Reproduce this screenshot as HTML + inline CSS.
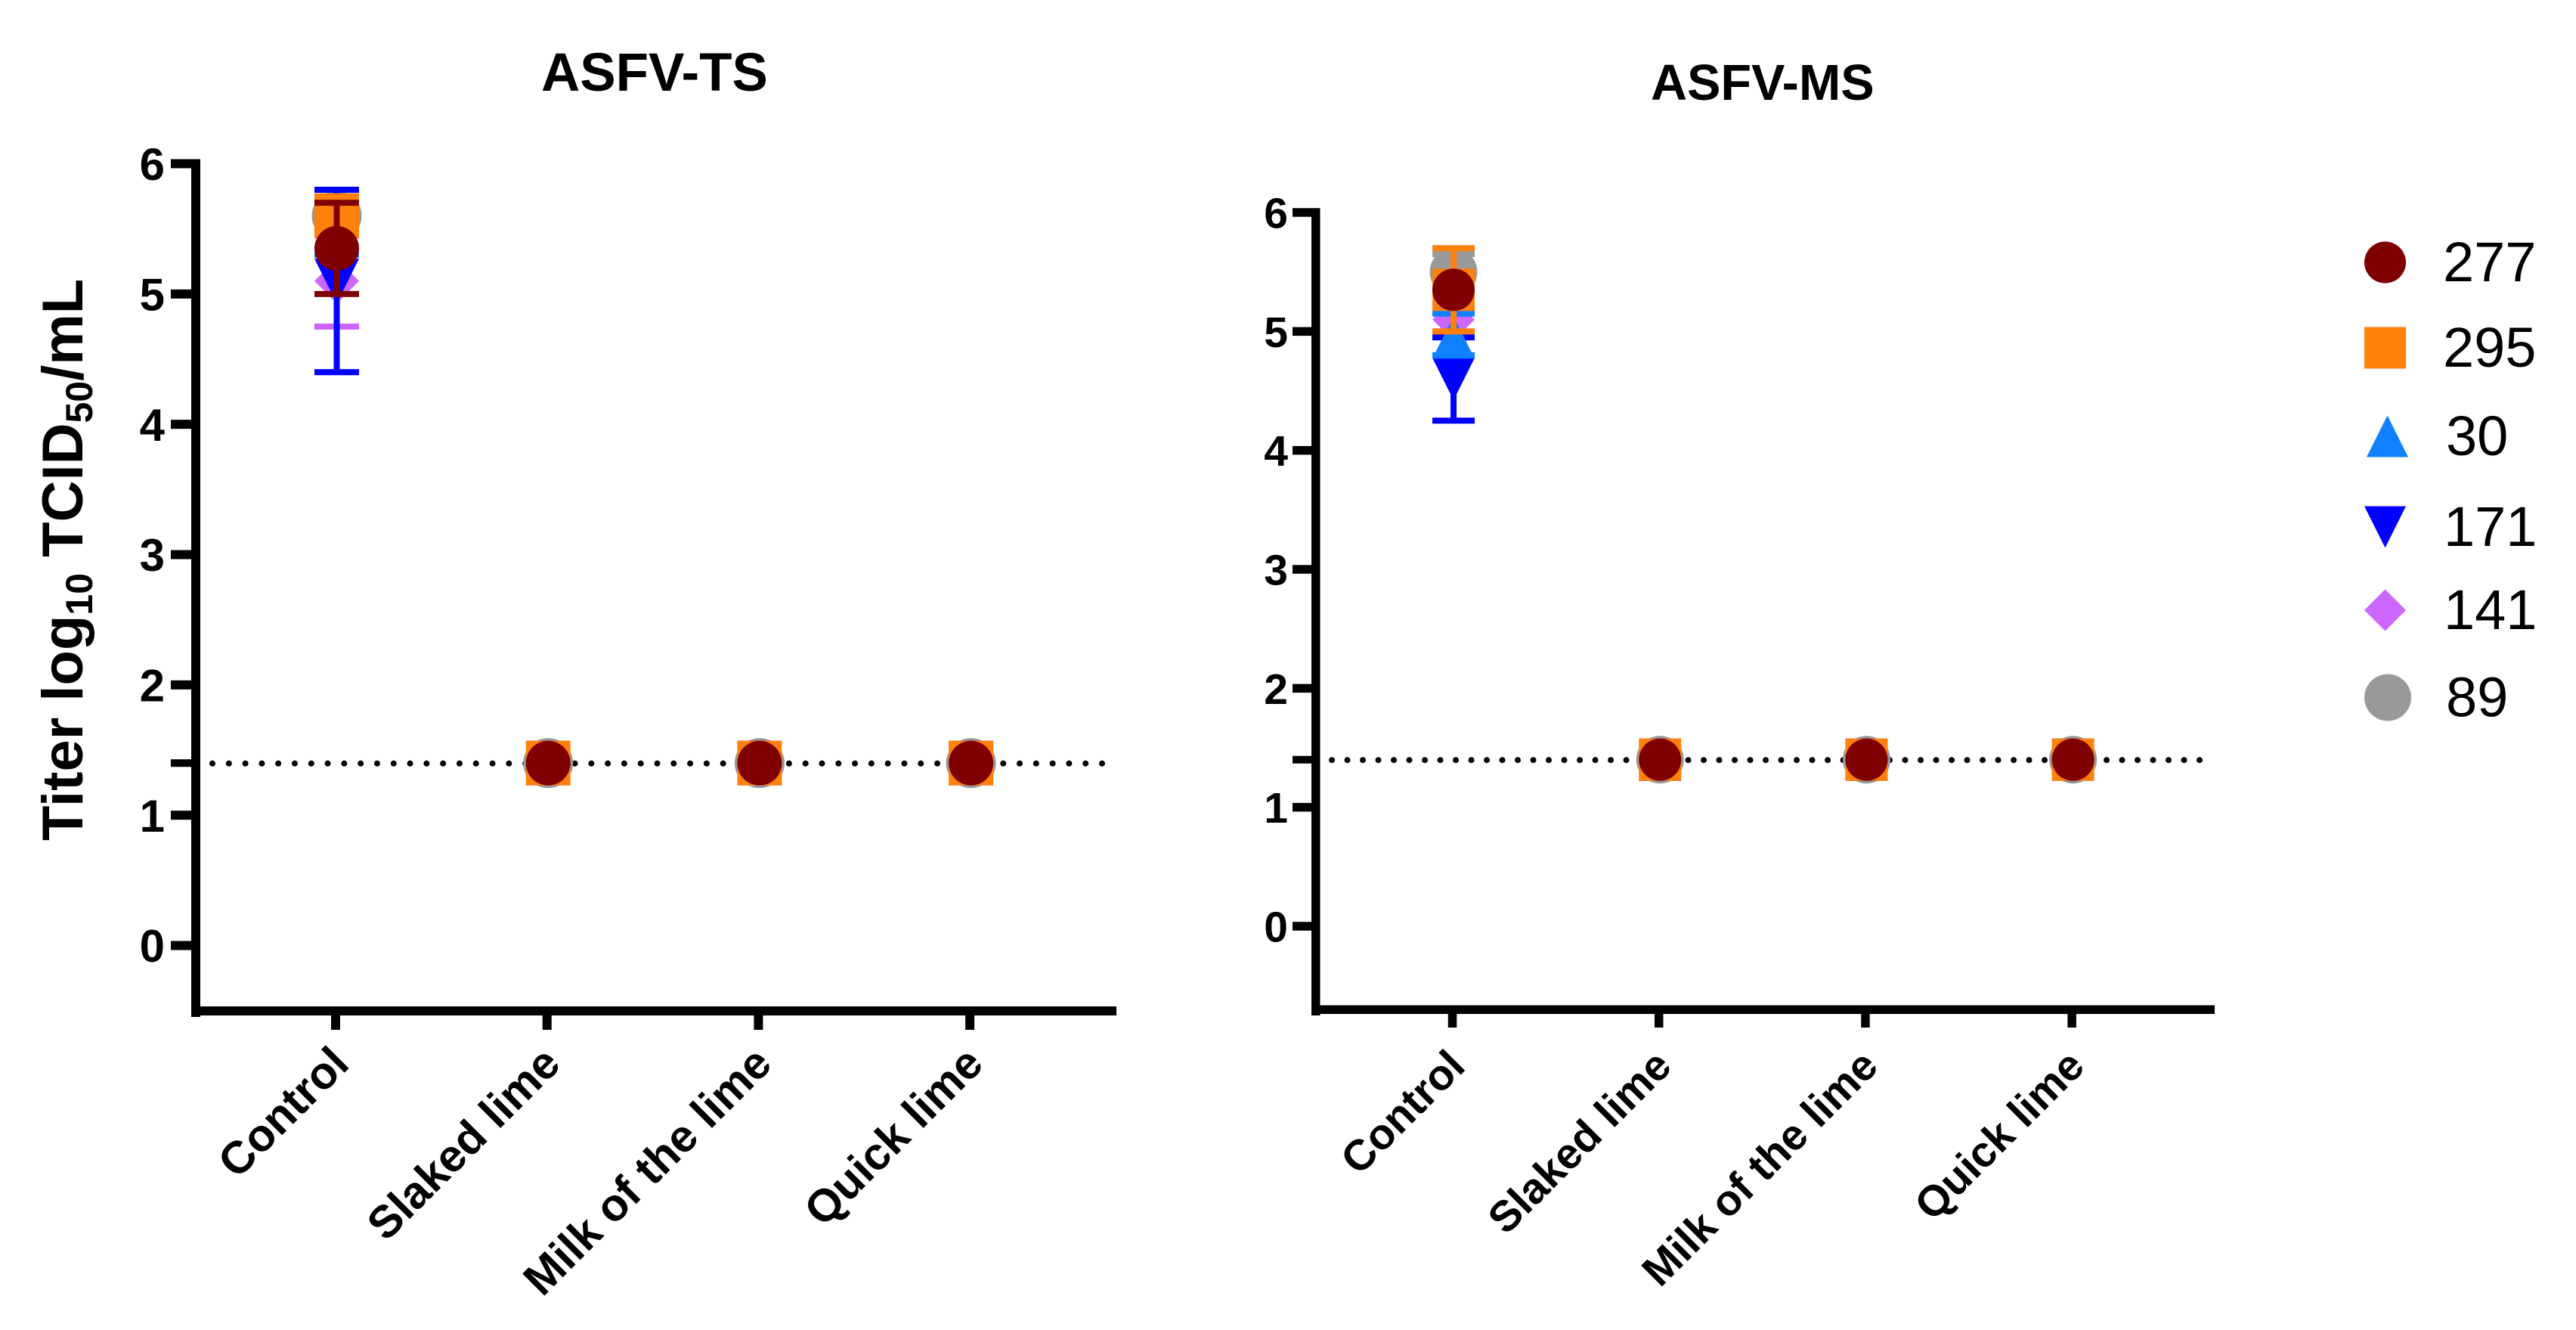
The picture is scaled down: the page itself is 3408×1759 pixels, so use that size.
<!DOCTYPE html>
<html lang="en">
<head>
<meta charset="utf-8">
<title>ASFV titer chart</title>
<style>
html,body{margin:0;padding:0;background:#fff;}
svg{display:block;}
text{font-family:"Liberation Sans",Arial,sans-serif;fill:#000;}
.b{font-weight:bold;}
</style>
</head>
<body>
<svg id="chart" xmlns="http://www.w3.org/2000/svg" width="3408" height="1759" viewBox="0 0 3408 1759">
  <rect width="3408" height="1759" fill="#fff"/>
  <text class="b" x="716" y="120" font-size="71">ASFV-TS</text>
  <text class="b" x="2184" y="132" font-size="66.5">ASFV-MS</text>
  <text class="b" transform="translate(109,1112) rotate(-90)" font-size="76">Titer log<tspan font-size="50" dy="13">10</tspan><tspan dy="-13"> TCID</tspan><tspan font-size="50" dy="13">50</tspan><tspan dy="-13">/mL</tspan></text>
  <g id="panel-ts"></g>
  <g id="panel-ms"></g>
  <g id="legend"></g>
</svg>
<script>
const categories = ['Control', 'Slaked lime', 'Milk of the lime', 'Quick lime'];
const yTickValues = [0, 1, 2, 3, 4, 5, 6];
const detectionLimit = [1.4];
const seriesLabels = ['277', '295', '30', '171', '141', '89'];
const seriesColors = ['#7f0000', '#ff800a', '#1080ff', '#0000ff', '#cc66ff', '#999999'];
const seriesShapes = ['circle', 'square', 'up', 'down', 'diamond', 'circle'];

const tsControl = [5.35, 5.6, 5.45, 5.1, 5.1, 5.6];
const tsControlLow = [5.0, 5.45, 5.3, 4.4, 4.75, 5.45];
const tsControlHigh = [5.7, 5.75, 5.6, 5.8, 5.45, 5.75];
const tsSlaked = [1.4, 1.4, 1.4, 1.4, 1.4, 1.4];
const tsMilk = [1.4, 1.4, 1.4, 1.4, 1.4, 1.4];
const tsQuick = [1.4, 1.4, 1.4, 1.4, 1.4, 1.4];

const msControl = [5.35, 5.35, 4.95, 4.6, 5.1, 5.5];
const msControlLow = [5.35, 5.0, 4.8, 4.25, 5.0, 5.35];
const msControlHigh = [5.35, 5.7, 5.15, 4.95, 5.2, 5.65];
const msSlaked = [1.4, 1.4, 1.4, 1.4, 1.4, 1.4];
const msMilk = [1.4, 1.4, 1.4, 1.4, 1.4, 1.4];
const msQuick = [1.4, 1.4, 1.4, 1.4, 1.4, 1.4];

const drawOrder = [5, 4, 3, 2, 1, 0];
const NS = 'http://www.w3.org/2000/svg';

function svgEl(tag, attrs, parent) {
  const el = document.createElementNS(NS, tag);
  for (const k in attrs) el.setAttribute(k, attrs[k]);
  parent.appendChild(el);
  return el;
}

function drawMarker(shape, cx, cy, size, color, parent) {
  const h = size / 2;
  let el;
  if (shape === 'circle') {
    el = svgEl('circle', { cx: cx, cy: cy, r: h, fill: color }, parent);
  } else if (shape === 'square') {
    el = svgEl('rect', { x: cx - h, y: cy - h, width: size, height: size, fill: color }, parent);
  } else if (shape === 'up') {
    el = svgEl('polygon', { points: [cx, cy - h, cx + h, cy + h, cx - h, cy + h].join(' '), fill: color }, parent);
  } else if (shape === 'down') {
    el = svgEl('polygon', { points: [cx - h, cy - h, cx + h, cy - h, cx, cy + h].join(' '), fill: color }, parent);
  } else {
    el = svgEl('polygon', { points: [cx, cy - h, cx + h, cy, cx, cy + h, cx - h, cy].join(' '), fill: color }, parent);
  }
  return el;
}

function drawPanel(cfg) {
  const root = document.getElementById(cfg.id);
  const yScale = function (v) { return cfg.y0 + (cfg.y6 - cfg.y0) * v / 6; };
  const xScale = function (i) { return cfg.x0 + cfg.step * i; };

  const limitLine = svgEl('line', {
    x1: cfg.dotStart, x2: cfg.dotEnd, y1: yScale(detectionLimit[0]) + 0.5, y2: yScale(detectionLimit[0]) + 0.5,
    stroke: '#000', 'stroke-width': 8, 'stroke-linecap': 'round', 'stroke-dasharray': '0 ' + cfg.dotStep
  }, root);
  
  

  const yAxis = svgEl('rect', {
    x: cfg.axisX, y: yScale(6) - cfg.axisW / 2, width: cfg.axisW, height: cfg.axisBottom + 2 - yScale(6) + cfg.axisW / 2, fill: '#000'
  }, root);
  
  

  const xAxis = svgEl('rect', {
    x: cfg.axisX, y: cfg.axisBottom - cfg.axisW, width: cfg.axisEnd - cfg.axisX, height: cfg.axisW, fill: '#000'
  }, root);
  
  

  yTickValues.forEach(function (v) {
    const t = svgEl('rect', {
      x: cfg.axisX - cfg.tickLen, y: yScale(v) - cfg.axisW / 2, width: cfg.tickLen, height: cfg.axisW, fill: '#000'
    }, root);
    
    
    const lab = svgEl('text', {
      x: cfg.axisX - cfg.labelGap, y: yScale(v) + cfg.tickFont * 0.36, 'font-size': cfg.tickFont, 'text-anchor': 'end', 'class': 'b'
    }, root);
    lab.textContent = String(v);
    
    
  });

  const limitTick = svgEl('rect', {
    x: cfg.axisX - cfg.tickLen, y: yScale(detectionLimit[0]) - 5, width: cfg.tickLen, height: 10, fill: '#000'
  }, root);
  
  

  categories.forEach(function (c, i) {
    const t = svgEl('rect', {
      x: xScale(i) - 1.5 - cfg.axisW / 2, y: cfg.axisBottom, width: cfg.axisW, height: cfg.xTickLen, fill: '#000'
    }, root);
    
    
    const lx = xScale(i) + cfg.xLabelDx;
    const lab = svgEl('text', {
      x: 0, y: 0, transform: 'translate(' + lx + ',' + cfg.xLabelY + ') rotate(-45)',
      'font-size': cfg.xFont, 'text-anchor': 'end', 'class': 'b'
    }, root);
    lab.textContent = c;
    
    
  });

  drawOrder.forEach(function (s) {
    const name = seriesLabels[s];
    const color = seriesColors[s];
    const group = svgEl('g', {}, root);
    
    

    cfg.groups.forEach(function (vals, i) {
      const cx = xScale(i);
      if (i === 0) {
        const yLo = yScale(cfg.low[s]);
        const yHi = yScale(cfg.high[s]);
        if (cfg.low[s] !== cfg.high[s]) {
          const stem = svgEl('rect', { x: cx - 4, y: yHi, width: 8, height: yLo - yHi, fill: color }, group);
          
          
          const capTop = svgEl('rect', { x: cx - cfg.size / 2, y: yHi - 4, width: cfg.size, height: 8, fill: color }, group);
          
          
          const capLow = svgEl('rect', { x: cx - cfg.size / 2, y: yLo - 4, width: cfg.size, height: 8, fill: color }, group);
          
          
        }
      }
      const sz = name === '89' ? cfg.graySize : cfg.size;
      const m = drawMarker(seriesShapes[s], cx, yScale(vals[s]), sz, color, group);
      
      
    });
  });
}

drawPanel({
  id: 'panel-ts', key: 'ts', y0: 1250.5, y6: 216.5, x0: 445.5, step: 279.7,
  axisX: 253, axisW: 12, axisBottom: 1343, axisEnd: 1477, tickLen: 27, xTickLen: 19,
  tickFont: 60, labelGap: 35, xFont: 60, xLabelDx: 19, xLabelY: 1410,
  dotStart: 281, dotEnd: 1459, dotStep: 21.796, size: 59, graySize: 66,
  groups: [tsControl, tsSlaked, tsMilk, tsQuick], low: tsControlLow, high: tsControlHigh
});
drawPanel({
  id: 'panel-ms', key: 'ms', y0: 1225, y6: 281, x0: 1923, step: 273.2,
  axisX: 1735, axisW: 11.5, axisBottom: 1341, axisEnd: 2930, tickLen: 25, xTickLen: 18,
  tickFont: 57, labelGap: 31, xFont: 57, xLabelDx: 18, xLabelY: 1413,
  dotStart: 1762, dotEnd: 2911, dotStep: 20.5, size: 56, graySize: 63,
  groups: [msControl, msSlaked, msMilk, msQuick], low: msControlLow, high: msControlHigh
});

const legendCenters = [347, 460, 577, 697, 807, 922.5];
const legendRoot = document.getElementById('legend');
seriesLabels.forEach(function (name, s) {
  const entry = svgEl('g', {}, legendRoot);
  
  
  const sz = name === '89' ? 62 : 55;
  const cx = name === '89' ? 3159 : (name === '30' ? 3158.5 : 3155.5);
  const m = drawMarker(seriesShapes[s], cx, legendCenters[s], sz, seriesColors[s], entry);
  
  
  const lab = svgEl('text', { x: name.length === 2 ? 3236 : (name.charAt(0) === '1' ? 3233 : 3232), y: legendCenters[s] + 25, 'font-size': 74 }, entry);
  lab.textContent = name;
  
  
});
</script>
</body>
</html>
